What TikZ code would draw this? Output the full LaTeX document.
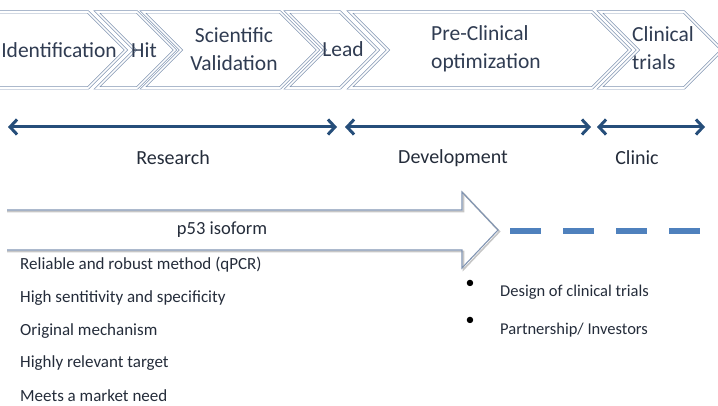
\documentclass[tikz,border=0pt]{standalone}
\usepackage{fontspec}
\setmainfont{Carlito}
\usetikzlibrary{arrows.meta}
\definecolor{chevline}{RGB}{128,148,178}
\definecolor{txtslate}{RGB}{48,60,82}
\definecolor{axisblue}{RGB}{38,78,122}
\definecolor{dashblue}{RGB}{79,129,189}
\definecolor{bodytext}{RGB}{36,44,58}
\begin{document}
\begin{tikzpicture}[x=1pt,y=-1pt,
  chev/.style={draw=chevline, line width=0.7pt, double=white, double distance=1.6pt, fill=white, line join=miter},
  chevtext/.style={text=txtslate, font=\fontsize{21.5}{28}\selectfont, inner sep=0pt},
  phase/.style={draw=axisblue, line width=3pt,
    {Straight Barb[length=7pt,width=15pt]}-{Straight Barb[length=7pt,width=15pt]}},
  phaselabel/.style={text=bodytext, font=\fontsize{20}{24}\selectfont, inner sep=0pt},
  bigarrow/.style={draw=chevline, line width=1.1pt, line join=miter},
  arrowshadow/.style={draw=gray, line width=1.6pt, opacity=0.45, line join=miter},
  itemtext/.style={text=bodytext, font=\fontsize{17}{20}\selectfont, inner sep=0pt, anchor=west},
  bullettext/.style={text=bodytext, font=\fontsize{16.5}{20}\selectfont, inner sep=0pt, anchor=west},
  bulletdot/.style={text=black, font=\fontsize{18}{20}\selectfont, inner sep=0pt},
]
\useasboundingbox (0,0) rectangle (718,406);
\clip (0,0) rectangle (718,406);

% stage chevrons
\draw[chev] (-20,12) -- (88,12) -- (126,50) -- (88,88) -- (-20,88) -- cycle;
\draw[chev] (97,12) -- (137,12) -- (175,50) -- (137,88) -- (97,88) -- (135,50) -- cycle;
\draw[chev] (143,12) -- (280,12) -- (318,50) -- (280,88) -- (143,88) -- (181,50) -- cycle;
\draw[chev] (287,12) -- (340,12) -- (378,50) -- (340,88) -- (287,88) -- (325,50) -- cycle;
\draw[chev] (350,12) -- (592,12) -- (630,50) -- (592,88) -- (350,88) -- (388,50) -- cycle;
\draw[chev] (600,12) -- (684,12) -- (722,50) -- (684,88) -- (600,88) -- (638,50) -- cycle;

\node[chevtext, anchor=east] (ident) at (117,50) {Identification};
\node[chevtext] (hit) at (144,50) {Hit};
\node[chevtext, align=center] (valid) at (234,49) {Scientific\\Validation};
\node[chevtext] (lead) at (343,49) {Lead};
\node[chevtext, align=left, anchor=west] (preclin) at (431,49) {Pre-Clinical\\optimization};
\node[chevtext, align=left, anchor=west] (trials) at (632,48) {Clinical\\trials};

% phase spans
\coordinate (r0) at (8,127);
\coordinate (r1) at (337,127);
\coordinate (d0) at (345,127);
\coordinate (d1) at (591,127);
\coordinate (c0) at (597,127);
\coordinate (c1) at (705,127);
\draw[phase] (r0) -- (r1);
\draw[phase] (d0) -- (d1);
\draw[phase] (c0) -- (c1);

\node[phaselabel] (research) at (173,158) {Research};
\node[phaselabel] (develop) at (453,158) {Development};
\node[phaselabel] (clinic) at (637,158) {Clinic};

% p53 isoform arrow
\draw[arrowshadow] (7,211.5) -- (463.5,211.5) -- (463.5,193.5) -- (499.5,231.5) -- (463.5,269.5) -- (463.5,251.5) -- (7,251.5);
\draw[bigarrow] (7,210) -- (462,210) -- (462,192) -- (498,230) -- (462,268) -- (462,250) -- (7,250);
\node[text=bodytext, font=\fontsize{18.5}{22}\selectfont, inner sep=0pt] (iso) at (222,230) {p53 isoform};

% continuation
\coordinate (dash0) at (510,231);
\coordinate (dash1) at (718,231);
\draw[dashblue, line width=6.5pt, dash pattern=on 31pt off 22pt] (dash0) -- (dash1);

% strengths
\node[itemtext] (s1) at (20,265) {Reliable and robust method (qPCR)};
\node[itemtext] (s2) at (20,298) {High sentitivity and specificity};
\node[itemtext] (s3) at (20,331) {Original mechanism};
\node[itemtext] (s4) at (20,363) {Highly relevant target};
\node[itemtext] (s5) at (20,396) {Meets a market need};

% next steps
\node[bulletdot] (b1) at (470,284) {•};
\node[bullettext] (n1) at (500,292) {Design of clinical trials};
\node[bulletdot] (b2) at (470,321) {•};
\node[bullettext] (n2) at (500,330) {Partnership/ Investors};
\end{tikzpicture}
\end{document}
